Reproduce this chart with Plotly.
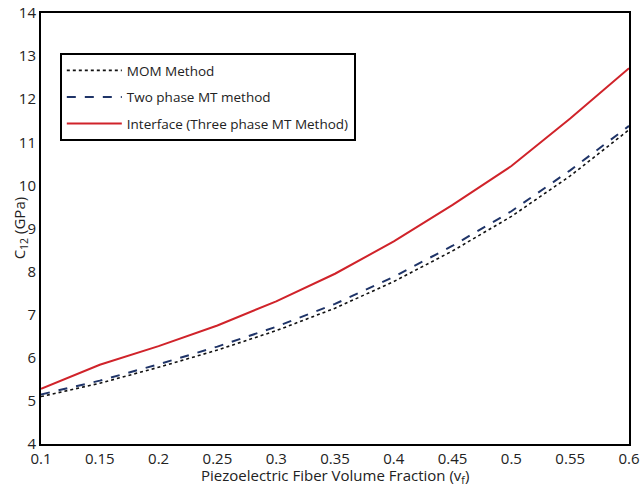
import plotly.graph_objects as go

vf = [0.1, 0.15, 0.2, 0.25, 0.3, 0.35, 0.4, 0.45, 0.5, 0.55, 0.6]
mom = [5.10, 5.41, 5.78, 6.18, 6.63, 7.15, 7.77, 8.48, 9.28, 10.22, 11.29]
two_phase = [5.15, 5.47, 5.85, 6.26, 6.72, 7.25, 7.88, 8.60, 9.40, 10.35, 11.38]
interface = [5.28, 5.84, 6.27, 6.75, 7.31, 7.95, 8.70, 9.55, 10.45, 11.55, 12.72]

x_ticks = [0.1, 0.15, 0.2, 0.25, 0.3, 0.35, 0.4, 0.45, 0.5, 0.55, 0.6]
x_tick_text = ["0.1", "0.15", "0.2", "0.25", "0.3", "0.35", "0.4", "0.45", "0.5", "0.55", "0.6"]
y_ticks = [4, 5, 6, 7, 8, 9, 10, 11, 12, 13, 14]

fig = go.Figure()
fig.add_trace(go.Scatter(x=vf, y=mom, mode="lines", name="MOM Method", legendgroup="a",
                         line=dict(color="#111111", width=1.6, dash="dot")))
fig.add_trace(go.Scatter(x=vf, y=two_phase, mode="lines", name="Two phase MT method", legendgroup="b",
                         line=dict(color="#1F3468", width=2, dash="dash")))
fig.add_trace(go.Scatter(x=vf, y=interface, mode="lines", name="Interface (Three phase MT Method)",
                         legendgroup="c", line=dict(color="#D0232A", width=2)))

fig.update_layout(
    width=642, height=484,
    margin=dict(l=41, r=13, t=13, b=40),
    paper_bgcolor="white", plot_bgcolor="white",
    font=dict(family="Open Sans", size=15, color="#222222"),
    showlegend=True,
    legend=dict(x=0.032, y=0.907, xanchor="left", yanchor="top",
                bordercolor="black", borderwidth=2, bgcolor="white",
                font=dict(family="Open Sans", size=13.5, color="#222222"),
                itemwidth=55, tracegroupgap=6),
    xaxis=dict(range=[0.1, 0.6], tickvals=x_ticks, ticktext=x_tick_text, automargin=False,
               showgrid=False, zeroline=False, showline=True, mirror=True,
               linecolor="black", linewidth=2, ticks="", ticklen=0),
    yaxis=dict(range=[4, 14], tickvals=y_ticks, automargin=False,
               showgrid=False, zeroline=False, showline=True, mirror=True,
               linecolor="black", linewidth=2, ticks="", ticklen=0),
    annotations=[
        dict(text="C<sub>12</sub> (GPa)", textangle=-90, showarrow=False,
             xref="paper", yref="paper", x=-0.036, y=0.5,
             xanchor="center", yanchor="middle", font=dict(size=15, color="#222222")),
        dict(text="Piezoelectric Fiber Volume Fraction (v<sub>f</sub>)", showarrow=False,
             xref="paper", yref="paper", x=0.5, y=-0.074,
             xanchor="center", yanchor="middle", font=dict(size=15, color="#222222")),
    ],
)

fig.write_html("out.html", config={"displayModeBar": False},
               post_script="document.body.style.margin='0';")
